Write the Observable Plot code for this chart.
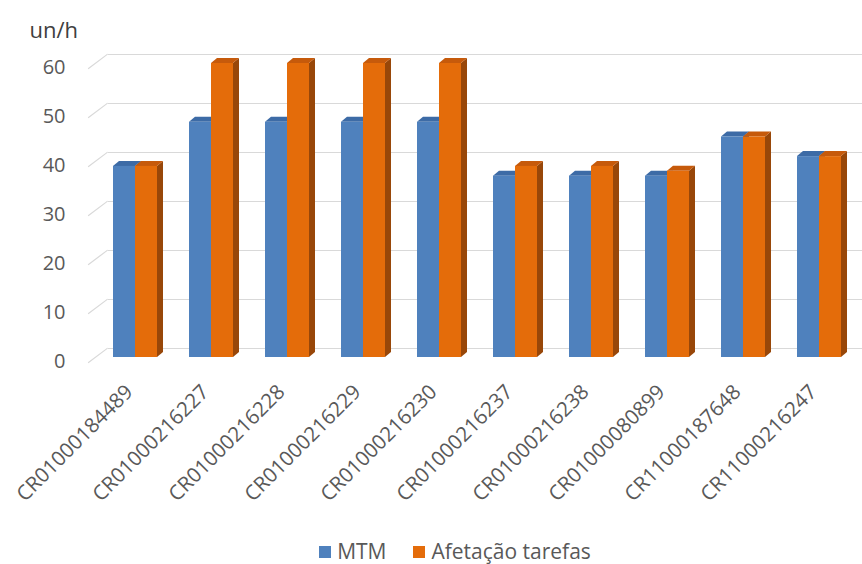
<!DOCTYPE html>
<html>
<head>
<meta charset="utf-8">
<script src="https://cdn.jsdelivr.net/npm/d3@7"></script>
<script src="https://cdn.jsdelivr.net/npm/@observablehq/plot@0.6"></script>
<style>
  body { margin: 0; background: #fff; font-family: "Open Sans", sans-serif; }
  #chart svg { display: block; }
  #legend { display: flex; justify-content: center; align-items: center; gap: 27px;
            font-size: 21px; line-height: 29px; color: #595959; margin-top: 17px; padding-left: 48px; }
  #legend span.item { display: flex; align-items: center; gap: 6px; }
  #legend i { display: inline-block; width: 12px; height: 12px; }
</style>
</head>
<body>
<div id="chart"></div>
<div id="legend"></div>
<script>
// Production rate per work order (units per hour)
const categories = [
  "CR01000184489", "CR01000216227", "CR01000216228", "CR01000216229", "CR01000216230",
  "CR01000216237", "CR01000216238", "CR01000080899", "CR11000187648", "CR11000216247"
];
const seriesNames = ["MTM", "Afetação tarefas"];
const mtmValues = [39, 48, 48, 48, 48, 37, 37, 37, 45, 41];
const afetacaoValues = [39, 60, 60, 60, 60, 39, 39, 38, 45, 41];
const yTicks = [0, 10, 20, 30, 40, 50, 60];
const unitLabel = "un/h";

const frontColors = ["#4f81bd", "#e46c0a"];
const topColors = ["#3d6ba6", "#c65a0b"];
const sideColors = ["#2f5587", "#984709"];

const rows = categories.flatMap((category, i) => [
  {category, series: seriesNames[0], value: mtmValues[i]},
  {category, series: seriesNames[1], value: afetacaoValues[i]}
]);

// depth of the extruded bars, in pixels
const DEPTH_X = 6, DEPTH_Y = 5;
const GRID = "#d9d9d9";

// top and side faces of each bar, computed from the plot's scales
function depthFaces(index, {x, y}) {
  const g = d3.create("svg:g");
  const bw = typeof x.bandwidth === "function" ? x.bandwidth() : x.bandwidth;
  const half = bw / 2;
  seriesNames.forEach((s, si) => {
    rows.filter(r => r.series === s).forEach(d => {
      const x0 = x(d.category) + si * half, x1 = x0 + half;
      const yb = y(0), yt = y(d.value);
      g.append("path")
        .attr("d", `M${x1},${yb}L${x1 + DEPTH_X},${yb - DEPTH_Y}L${x1 + DEPTH_X},${yt - DEPTH_Y}L${x1},${yt}Z`)
        .attr("fill", sideColors[si]);
      g.append("path")
        .attr("d", `M${x0},${yt}L${x1},${yt}L${x1 + DEPTH_X},${yt - DEPTH_Y}L${x0 + DEPTH_X},${yt - DEPTH_Y}Z`)
        .attr("fill", topColors[si]);
    });
  });
  return g.node();
}

// short slanted segment of each gridline along the left side wall
const wallSegment = {draw(context, l) { context.moveTo(0, 0); context.lineTo(0, -l); }};

const plot = Plot.plot({
  width: 862,
  height: 520,
  marginLeft: 70,
  marginRight: 0,
  marginTop: 20,
  marginBottom: 140,
  style: {fontFamily: "Open Sans, sans-serif", background: "white", color: "#595959"},
  x: {domain: categories, range: [110, 844], paddingInner: 0.4263, paddingOuter: 0},
  y: {domain: [0, 60], range: [357, 63]},
  color: {domain: seriesNames, range: frontColors},
  marks: [
    Plot.ruleY(yTicks, {stroke: GRID, strokeWidth: 1.2, dy: -9, insetLeft: 38}),
    Plot.vector(yTicks, {y: d => d, frameAnchor: "left", dx: 18, dy: 5, anchor: "start",
      rotate: 53, length: 23.5, shape: wallSegment, stroke: GRID, strokeWidth: 1.2}),
    depthFaces,
    Plot.barY(rows, {filter: d => d.series === seriesNames[0], x: "category", y: "value", fill: "series", insetRight: 22}),
    Plot.barY(rows, {filter: d => d.series === seriesNames[1], x: "category", y: "value", fill: "series", insetLeft: 22}),
    Plot.axisY({ticks: yTicks, tickSize: 0, tickPadding: 5, dy: 4, fontSize: 20, fill: "#595959", label: null}),
    Plot.axisX({tickRotate: -45, tickSize: 0, tickPadding: 2, dx: -6, dy: 6, fontSize: 20.5, fill: "#595959", label: null}),
    Plot.text([unitLabel], {frameAnchor: "top-left", dx: -41, dy: 10, textAnchor: "start", lineAnchor: "middle",
      fontSize: 22, fill: "#404040"})
  ]
});
document.getElementById("chart").append(plot);

const legend = d3.select("#legend");
seriesNames.forEach((s, i) => {
  const item = legend.append("span").attr("class", "item");
  item.append("i").style("background", frontColors[i]);
  item.append("span").text(s);
});
</script>
</body>
</html>
